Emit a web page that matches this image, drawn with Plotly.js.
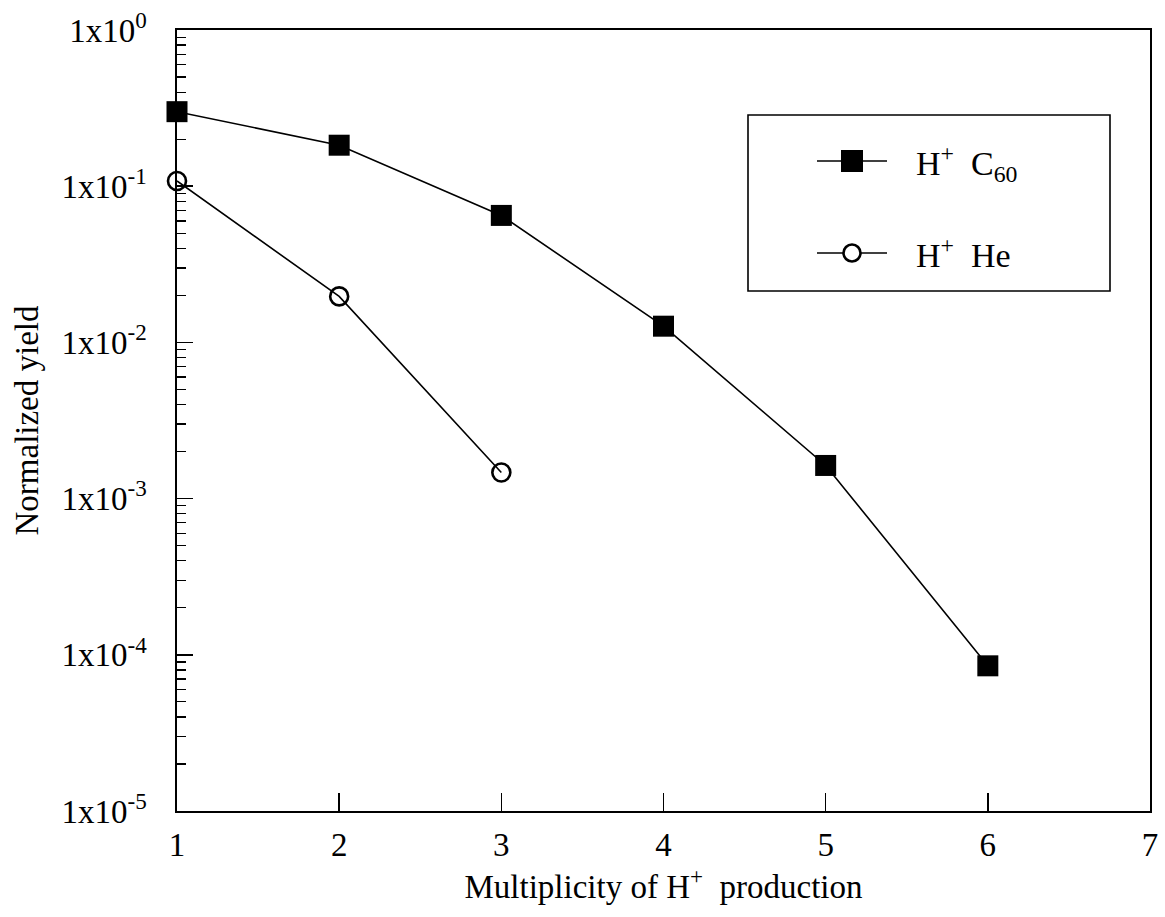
<!DOCTYPE html>
<html>
<head>
<meta charset="utf-8">
<script src="https://cdn.plot.ly/plotly-3.0.1.min.js"></script>
<style>html,body{margin:0;padding:0;background:#fff;}</style>
</head>
<body>
<div id="chart" style="width:1165px;height:917px;"></div>
<script>
const multiplicity_c60 = [1, 2, 3, 4, 5, 6];
const yield_c60 = [0.30, 0.183, 0.065, 0.0127, 0.00163, 0.000085];
const multiplicity_he = [1, 2, 3];
const yield_he = [0.108, 0.0197, 0.00147];
const seriesNames = ['H<sup>+</sup>\u00a0\u00a0C<sub>60</sub>', 'H<sup>+</sup>\u00a0\u00a0He'];
const yTickVals = [1, 0.1, 0.01, 0.001, 0.0001, 0.00001];
const yTickText = ['1x10<sup>0</sup>', '1x10<sup>-1</sup>', '1x10<sup>-2</sup>', '1x10<sup>-3</sup>', '1x10<sup>-4</sup>', '1x10<sup>-5</sup>'];
const xTickVals = [1, 2, 3, 4, 5, 6, 7];

const font = 'Liberation Serif, Times New Roman, serif';
const W = 1165, H = 917;
const M = {l: 177, r: 15, t: 30, b: 106};
const PW = W - M.l - M.r, PH = H - M.t - M.b;
const px = v => (v - M.l) / PW;          // pixel -> paper x
const py = v => (H - M.b - v) / PH;      // pixel -> paper y

const traces = [
  {
    x: multiplicity_c60, y: yield_c60, type: 'scatter', mode: 'lines+markers',
    name: seriesNames[0], showlegend: false,
    line: {color: '#000', width: 1.6},
    marker: {symbol: 'square', size: 21, color: '#000'},
    cliponaxis: false
  },
  {
    x: multiplicity_he, y: yield_he, type: 'scatter', mode: 'lines+markers',
    name: seriesNames[1], showlegend: false,
    line: {color: '#000', width: 1.6},
    marker: {symbol: 'circle-open', size: 18, color: '#000', line: {width: 2.6, color: '#000'}},
    cliponaxis: false
  }
];

// hand-drawn legend (box, key lines, key markers, labels)
const shapes = [
  {type: 'rect', xref: 'paper', yref: 'paper', x0: px(748), x1: px(1110), y0: py(291), y1: py(115),
   line: {color: '#000', width: 1.6}, fillcolor: '#fff', layer: 'above'},
  {type: 'line', xref: 'paper', yref: 'paper', x0: px(817), x1: px(887), y0: py(161), y1: py(161),
   line: {color: '#000', width: 1.6}, layer: 'above'},
  {type: 'rect', xref: 'paper', yref: 'paper', x0: px(841), x1: px(863), y0: py(172), y1: py(150),
   line: {color: '#000', width: 0}, fillcolor: '#000', layer: 'above'},
  {type: 'line', xref: 'paper', yref: 'paper', x0: px(817), x1: px(887), y0: py(253), y1: py(253),
   line: {color: '#000', width: 1.6}, layer: 'above'},
  {type: 'circle', xref: 'paper', yref: 'paper', x0: px(843.5), x1: px(860.5), y0: py(261.5), y1: py(244.5),
   line: {color: '#000', width: 2.6}, fillcolor: '#fff', layer: 'above'}
];
const annotations = [
  {xref: 'paper', yref: 'paper', x: px(914), y: py(163), xanchor: 'left', yanchor: 'middle',
   text: seriesNames[0], showarrow: false, font: {family: font, size: 34, color: '#000'}},
  {xref: 'paper', yref: 'paper', x: px(914), y: py(253), xanchor: 'left', yanchor: 'middle',
   text: seriesNames[1], showarrow: false, font: {family: font, size: 34, color: '#000'}}
];

const layout = {
  width: W, height: H,
  margin: M,
  paper_bgcolor: '#fff', plot_bgcolor: '#fff',
  font: {family: font, color: '#000', size: 33},
  showlegend: false,
  shapes: shapes,
  annotations: annotations,
  xaxis: {
    range: [1, 7], tickvals: xTickVals, ticktext: xTickVals.map(String),
    ticks: 'inside', ticklen: 18, tickwidth: 1.6, tickcolor: '#000',
    ticklabelstandoff: 4,
    showline: true, linecolor: '#000', linewidth: 1.6, mirror: true,
    showgrid: false, zeroline: false,
    tickfont: {family: font, size: 33},
    title: {text: 'Multiplicity of H<sup>+</sup>\u00a0 production', font: {family: font, size: 33}, standoff: 0}
  },
  yaxis: {
    type: 'log', range: [-5, 0],
    tickvals: yTickVals, ticktext: yTickText,
    ticks: 'inside', ticklen: 16, tickwidth: 1.6, tickcolor: '#000',
    ticklabelstandoff: 22,
    minor: {ticks: 'inside', ticklen: 9, tickwidth: 1.3, tickcolor: '#000', dtick: 'D1'},
    showline: true, linecolor: '#000', linewidth: 1.6, mirror: true,
    showgrid: false, zeroline: false,
    tickfont: {family: font, size: 33},
    title: {text: 'Normalized yield', font: {family: font, size: 33}, standoff: 13}
  }
};

Plotly.newPlot('chart', traces, layout, {displayModeBar: false, staticPlot: true});
</script>
</body>
</html>
